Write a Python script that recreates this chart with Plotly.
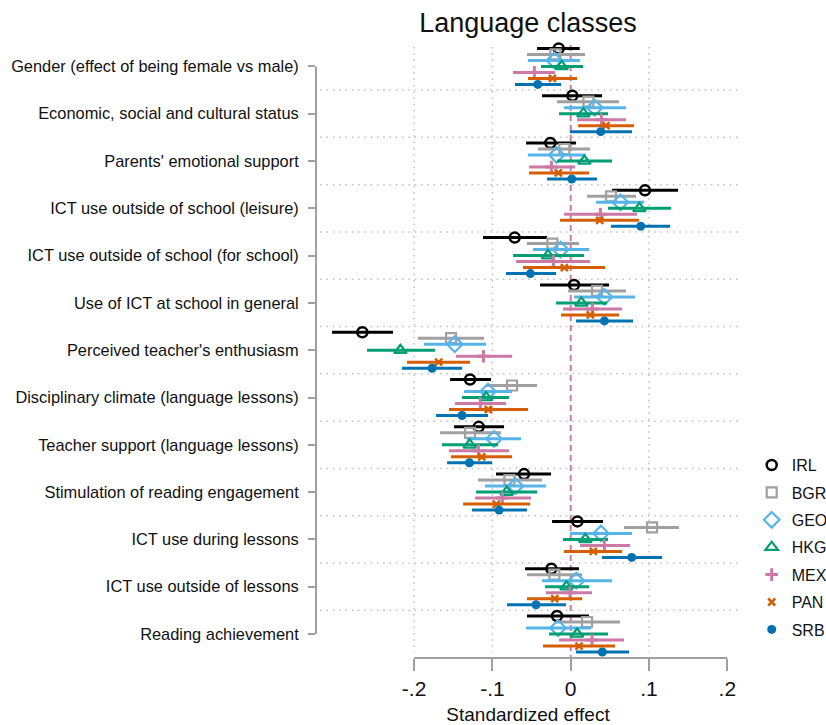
import plotly.graph_objects as go

# Predictor labels, top to bottom
categories = [
    "Gender (effect of being female vs male)",
    "Economic, social and cultural status",
    "Parents' emotional support",
    "ICT use outside of school (leisure)",
    "ICT use outside of school (for school)",
    "Use of ICT at school in general",
    "Perceived teacher's enthusiasm",
    "Disciplinary climate (language lessons)",
    "Teacher support (language lessons)",
    "Stimulation of reading engagement",
    "ICT use during lessons",
    "ICT use outside of lessons",
    "Reading achievement",
]

countries = ["IRL", "BGR", "GEO", "HKG", "MEX", "PAN", "SRB"]

# Point estimates and 95% confidence bounds per country
irl_est = [-0.0153, 0.0021, -0.0260, 0.0949, -0.0715, 0.0043, -0.2661, -0.1286, -0.1175, -0.0596, 0.0085, -0.0247, -0.0175]
irl_lo = [-0.0430, -0.0366, -0.0570, 0.0528, -0.1120, -0.0392, -0.3048, -0.1541, -0.1490, -0.0954, -0.0238, -0.0583, -0.0558]
irl_hi = [0.0115, 0.0400, 0.0068, 0.1371, -0.0302, 0.0490, -0.2269, -0.1017, -0.0851, -0.0251, 0.0413, 0.0106, 0.0234]

bgr_est = [-0.0196, 0.0226, -0.0081, 0.0515, -0.0234, 0.0336, -0.1528, -0.0749, -0.1286, -0.0783, 0.1039, -0.0209, 0.0209]
bgr_lo = [-0.0558, -0.0175, -0.0417, 0.0209, -0.0558, -0.0034, -0.1950, -0.1081, -0.1669, -0.1183, 0.0681, -0.0558, -0.0187]
bgr_hi = [0.0183, 0.0617, 0.0247, 0.0834, 0.0106, 0.0707, -0.1107, -0.0430, -0.0890, -0.0366, 0.1384, 0.0145, 0.0630]

geo_est = [-0.0209, 0.0307, -0.0179, 0.0634, -0.0128, 0.0430, -0.1481, -0.1056, -0.0979, -0.0707, 0.0387, 0.0072, -0.0162]
geo_lo = [-0.0545, -0.0085, -0.0545, 0.0324, -0.0481, 0.0043, -0.1873, -0.1362, -0.1324, -0.1094, -0.0009, -0.0366, -0.0570]
geo_hi = [0.0119, 0.0707, 0.0192, 0.0937, 0.0234, 0.0822, -0.1081, -0.0749, -0.0634, -0.0315, 0.0783, 0.0528, 0.0260]

hkg_est = [-0.0115, 0.0162, 0.0175, 0.0877, -0.0290, 0.0136, -0.2175, -0.1081, -0.1290, -0.0817, 0.0187, -0.0055, 0.0081]
hkg_lo = [-0.0379, -0.0149, -0.0175, 0.0477, -0.0736, -0.0187, -0.2601, -0.1388, -0.1643, -0.1209, -0.0098, -0.0328, -0.0277]
hkg_hi = [0.0158, 0.0477, 0.0528, 0.1281, 0.0170, 0.0464, -0.1733, -0.0788, -0.0928, -0.0430, 0.0477, 0.0234, 0.0477]

mex_est = [-0.0464, 0.0392, -0.0247, 0.0379, -0.0221, 0.0277, -0.1115, -0.1154, -0.1179, -0.0873, 0.0430, -0.0009, 0.0272]
mex_lo = [-0.0736, 0.0081, -0.0532, -0.0085, -0.0698, -0.0098, -0.1464, -0.1477, -0.1554, -0.1222, 0.0119, -0.0315, -0.0149]
mex_hi = [-0.0200, 0.0707, 0.0055, 0.0847, 0.0247, 0.0656, -0.0749, -0.0826, -0.0788, -0.0507, 0.0758, 0.0272, 0.0681]

pan_est = [-0.0234, 0.0451, -0.0158, 0.0370, -0.0081, 0.0251, -0.1686, -0.1052, -0.1137, -0.0949, 0.0289, -0.0204, 0.0106]
pan_lo = [-0.0545, 0.0094, -0.0532, -0.0136, -0.0609, -0.0123, -0.2090, -0.1554, -0.1528, -0.1375, -0.0085, -0.0558, -0.0353]
pan_hi = [0.0081, 0.0809, 0.0234, 0.0873, 0.0438, 0.0617, -0.1286, -0.0545, -0.0749, -0.0519, 0.0656, 0.0145, 0.0566]

srb_est = [-0.0421, 0.0383, 0.0013, 0.0894, -0.0515, 0.0430, -0.1771, -0.1388, -0.1294, -0.0915, 0.0779, -0.0443, 0.0404]
srb_lo = [-0.0711, -0.0009, -0.0302, 0.0515, -0.0826, 0.0068, -0.2154, -0.1720, -0.1579, -0.1260, 0.0400, -0.0813, 0.0068]
srb_hi = [-0.0123, 0.0783, 0.0336, 0.1269, -0.0187, 0.0796, -0.1388, -0.1056, -0.1005, -0.0558, 0.1166, -0.0060, 0.0745]

x_ticks = [-0.2, -0.1, 0, 0.1, 0.2]
x_ticktext = ["-.2", "-.1", "0", ".1", ".2"]

series = [
    (irl_est, irl_lo, irl_hi),
    (bgr_est, bgr_lo, bgr_hi),
    (geo_est, geo_lo, geo_hi),
    (hkg_est, hkg_lo, hkg_hi),
    (mex_est, mex_lo, mex_hi),
    (pan_est, pan_lo, pan_hi),
    (srb_est, srb_lo, srb_hi),
]

styles = [
    dict(color="#000000", symbol="circle-open", size=10, lw=2.5),
    dict(color="#A0A0A0", symbol="square-open", size=10, lw=2.2),
    dict(color="#56B4E9", symbol="diamond-open", size=12, lw=2.2),
    dict(color="#009E73", symbol="triangle-up-open", size=11, lw=2.2),
    dict(color="#CC79A7", symbol="cross-thin-open", size=9, lw=3),
    dict(color="#D55E00", symbol="x-thin-open", size=7, lw=2.5),
    dict(color="#0072B2", symbol="circle", size=9, lw=0),
]

FONT = "Liberation Sans, Arial, Helvetica, sans-serif"
GRAY = "#A0A0A0"
GRID = "#BEBEBE"
step = 0.1268  # vertical offset between countries within a row

fig = go.Figure()
for j, (name, (est, lo, hi), st) in enumerate(zip(countries, series, styles)):
    ys = [i + (j - 3) * step for i in range(len(categories))]
    fig.add_trace(go.Scatter(
        x=est, y=ys, mode="markers", name=name,
        legendgroup=name,
        error_x=dict(type="data", symmetric=False,
                     array=[h - e for h, e in zip(hi, est)],
                     arrayminus=[e - l for e, l in zip(est, lo)],
                     color=st["color"], thickness=3, width=0),
        marker=dict(symbol=st["symbol"], size=st["size"], color=st["color"],
                    line=dict(color=st["color"], width=st["lw"])),
        hoverinfo="skip",
    ))

shapes = []
# dotted vertical grid
for gx in [-0.2, -0.1, 0.1]:
    shapes.append(dict(type="line", xref="x", yref="y", x0=gx, x1=gx, y0=-0.41, y1=12.39,
                       line=dict(color=GRID, width=1.5, dash="1.5px,4.8px"), layer="below"))
# dotted row separators
for k in range(len(categories) - 1):
    shapes.append(dict(type="line", xref="paper", yref="y", x0=0.01, x1=1, y0=k + 0.5, y1=k + 0.5,
                       line=dict(color=GRID, width=1.5, dash="1.5px,4.8px"), layer="below"))
# reference line at zero
shapes.append(dict(type="line", xref="x", yref="y", x0=0, x1=0, y0=-0.45, y1=12.5,
                   line=dict(color="#CC79A7", width=2, dash="6px,4px"), layer="below"))
# axis lines
shapes.append(dict(type="line", xref="x", yref="paper", x0=-0.2, x1=0.2, y0=0, y1=0,
                   line=dict(color=GRAY, width=2)))
shapes.append(dict(type="line", xref="paper", yref="y", x0=0, x1=0, y0=0, y1=12,
                   line=dict(color=GRAY, width=2)))

fig.update_layout(
    width=826, height=725,
    margin=dict(l=316, r=86, t=40, b=67, autoexpand=False),
    paper_bgcolor="white", plot_bgcolor="white",
    font=dict(family=FONT, color="#111111"),
    title=dict(text="Language classes", x=0.5, xref="paper", xanchor="center",
               y=1 - 22.7 / 725, yref="container", yanchor="middle",
               font=dict(size=27, family=FONT, color="#111111")),
    xaxis=dict(range=[-0.3253, 0.2162], tickvals=x_ticks, ticktext=x_ticktext,
               ticks="outside", ticklen=12, tickwidth=2, tickcolor=GRAY,
               showgrid=False, zeroline=False, showline=False,
               tickfont=dict(size=21, family=FONT, color="#111111"),
               title=dict(text="Standardized effect", font=dict(size=19, family=FONT, color="#111111"),
                          standoff=13)),
    yaxis=dict(range=[12.507, -0.558], tickvals=list(range(len(categories))), ticktext=categories,
               ticks="outside", ticklen=7, tickwidth=2, tickcolor=GRAY,
               showgrid=False, zeroline=False, showline=False,
               tickfont=dict(size=16.4, family=FONT, color="#111111"),
               ticklabelstandoff=6),
    shapes=shapes,
    showlegend=True,
    legend=dict(xref="container", yref="container", x=751.7 / 826, y=1 - 448.1 / 725,
                xanchor="left", yanchor="top", traceorder="grouped", tracegroupgap=3.6,
                font=dict(size=16, family=FONT, color="#111111"),
                bgcolor="rgba(0,0,0,0)", borderwidth=0),
)

fig.write_html("out.html")
